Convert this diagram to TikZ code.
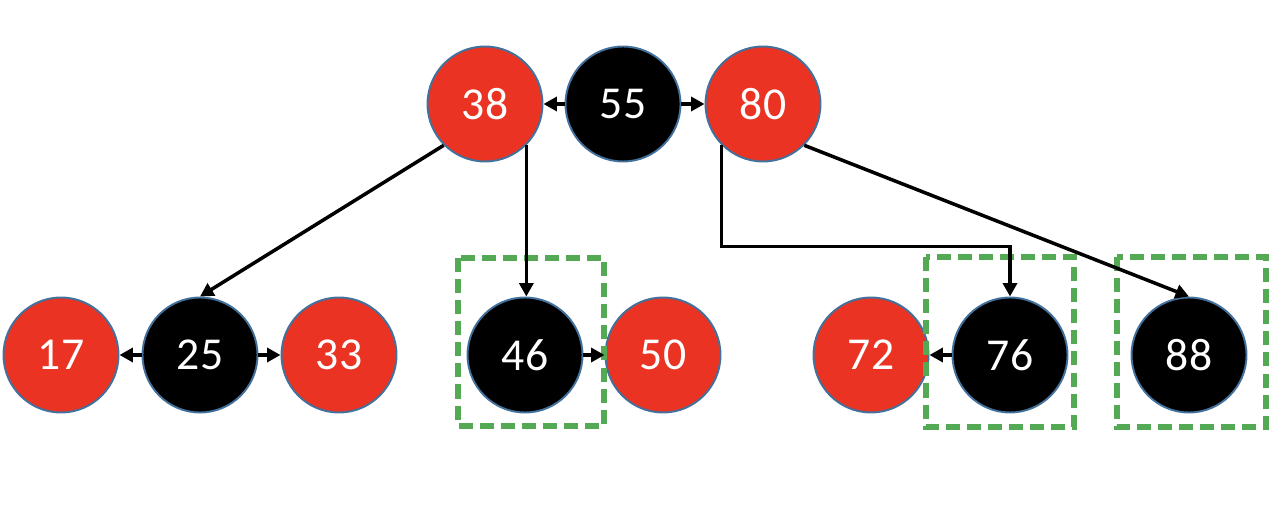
\documentclass[tikz,border=0pt]{standalone}
\usepackage{fontspec}
\setmainfont{Carlito}
\usetikzlibrary{arrows.meta}
\definecolor{nred}{RGB}{234,51,35}
\definecolor{nedge}{RGB}{65,113,156}
\definecolor{boxgreen}{RGB}{84,170,84}
\tikzset{
  x=0.02cm, y=-0.02cm,
  rb/.style={circle, draw=nedge, line width=1.1pt, minimum size=2.3cm, inner sep=0pt, text=white, font=\fontsize{26}{26}\selectfont},
  rednode/.style={rb, fill=nred},
  blacknode/.style={rb, fill=black},
  arr/.style={line width=2pt, -{Triangle[length=0.27cm, width=0.28cm]}},
  gbox/.style={draw=boxgreen, line width=3pt, dash pattern=on 8pt off 4pt},
}
\begin{document}
\begin{tikzpicture}
\useasboundingbox (0,0) rectangle (1284,516);
% top row
\node[rednode]   (n38) at (485,104) {38};
\node[blacknode] (n55) at (623,104) {55};
\node[rednode]   (n80) at (763,104) {80};
% bottom row
\node[rednode]   (n17) at (61,355) {17};
\node[blacknode] (n25) at (200,355) {25};
\node[rednode]   (n33) at (339,355) {33};
\node[blacknode] (n46) at (525,355) {46};
\node[rednode]   (n50) at (663,355) {50};
\node[rednode]   (n72) at (871,355) {72};
\node[blacknode] (n76) at (1010,355) {76};
\node[blacknode] (n88) at (1189,355) {88};
% green boxes
\draw[gbox] (458,258) rectangle (604,426);
\draw[gbox] (926,257) rectangle (1074,427);
\draw[gbox] (1117,257) rectangle (1266,427);
% sibling arrows
\draw[arr] (n55) -- (n38);
\draw[arr] (n55) -- (n80);
\draw[arr] (n25) -- (n17);
\draw[arr] (n25) -- (n33);
\draw[arr] (n46) -- (n50);
\draw[arr] (n76) -- (n72);
% child arrows
\draw[arr] (n38.-135) -- (n25.north);
\draw[arr] (n38.-45) -- (n38.-45 |- n46.north);
\draw[arr] (n80.-135) -- ++(0,101) -| (n76.north);
\draw[arr] (n80.-45) -- (n88.north);
\end{tikzpicture}
\end{document}
